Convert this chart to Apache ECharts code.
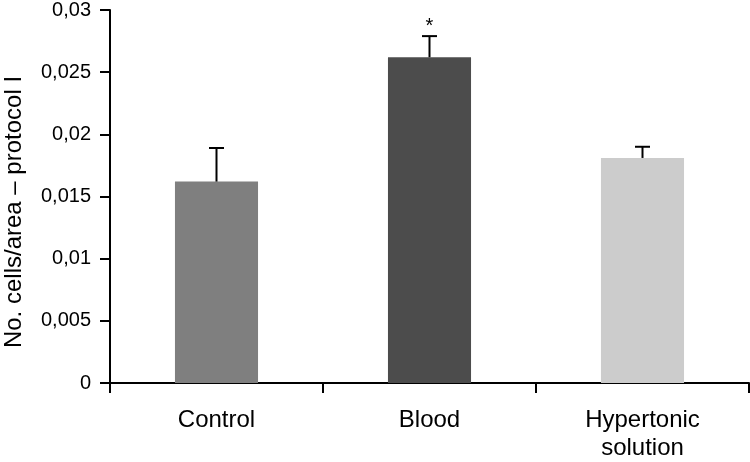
<!DOCTYPE html>
<html>
<head>
<meta charset="utf-8">
<script src="https://cdn.jsdelivr.net/npm/echarts@6/dist/echarts.min.js"></script>
<style>html,body{margin:0;padding:0;background:#fff;}#c{width:750px;height:462px;}</style>
</head>
<body>
<div id="c"></div>
<script>
var categories = ['Control', 'Blood', 'Hypertonic\nsolution'];
var means = [0.0162, 0.0262, 0.0181];
var errors = [0.0027, 0.0017, 0.0009];
var significance = ['', '*', ''];
var barColors = ['#7f7f7f', '#4c4c4c', '#cccccc'];
var yTicks = [0, 0.005, 0.01, 0.015, 0.02, 0.025, 0.03];
var yTitle = 'No. cells/area \u2013 protocol I';

var FONT = '"Liberation Sans", Arial, Helvetica, sans-serif';
var chart = echarts.init(document.getElementById('c'), null, {renderer: 'canvas'});

var errData = categories.map(function (c, i) { return [i, means[i], means[i] + errors[i], significance[i]]; });

var option = {
  backgroundColor: '#ffffff',
  animation: false,
  grid: {left: 110, right: 1, top: 10, bottom: 79, containLabel: false},
  xAxis: {
    type: 'category',
    data: categories,
    boundaryGap: true,
    axisLine: {lineStyle: {color: '#000', width: 2}},
    axisTick: {show: true, alignWithLabel: false, length: 10, lineStyle: {color: '#000', width: 2}},
    axisLabel: {color: '#000', fontSize: 24, lineHeight: 28, margin: 23, fontFamily: FONT, interval: 0}
  },
  yAxis: {
    type: 'value',
    min: yTicks[0],
    max: yTicks[yTicks.length - 1],
    interval: yTicks[1] - yTicks[0],
    axisLine: {show: true, lineStyle: {color: '#000', width: 2}},
    axisTick: {show: true, length: 10, lineStyle: {color: '#000', width: 2}},
    splitLine: {show: false},
    axisLabel: {
      color: '#000', fontSize: 20, margin: 19, fontFamily: FONT,
      formatter: function (v) { return String(Math.round(v * 1000) / 1000).replace('.', ','); }
    }
  },
  graphic: [{
    type: 'text', x: 14, y: 212, rotation: Math.PI / 2,
    style: {text: yTitle, fill: '#000', font: '24px ' + FONT, align: 'center', verticalAlign: 'middle'}
  }],
  series: [
    {
      type: 'bar',
      barWidth: '39%',
      data: means.map(function (v, i) { return {value: v, itemStyle: {color: barColors[i]}}; }),
      z: 2
    },
    {
      type: 'custom',
      data: errData,
      z: 3,
      renderItem: function (params, api) {
        var x = api.value(0);
        var base = api.coord([x, api.value(1)]);
        var top = api.coord([x, api.value(2)]);
        var half = 7.5;
        var children = [
          {type: 'line', shape: {x1: base[0], y1: base[1], x2: top[0], y2: top[1]}, style: {stroke: '#000', lineWidth: 2}},
          {type: 'line', shape: {x1: top[0] - half, y1: top[1], x2: top[0] + half, y2: top[1]}, style: {stroke: '#000', lineWidth: 2}}
        ];
        var mark = significance[params.dataIndex];
        if (mark) {
          children.push({type: 'text', x: top[0], y: top[1] - 10,
            style: {text: mark, fill: '#000', font: '20px ' + FONT, align: 'center', verticalAlign: 'middle'}});
        }
        return {type: 'group', children: children};
      }
    }
  ]
};
chart.setOption(option);
</script>
</body>
</html>
